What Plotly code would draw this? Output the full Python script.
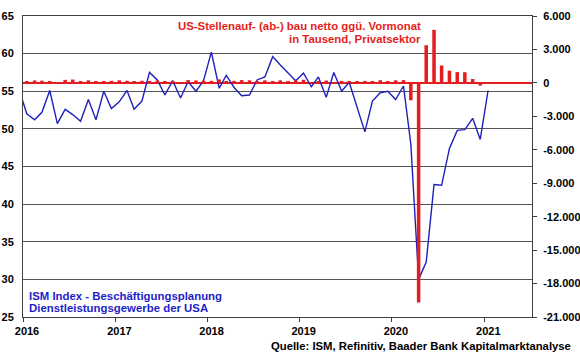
import pandas as pd
import plotly.graph_objects as go

# ISM services employment index, monthly, Dec 2015 - Jan 2021
ism_start = "2015-12-01"
ism_values = [
    55.3,
    52.0, 51.2, 52.2, 55.1, 50.7, 52.6, 51.9, 51.0, 53.9, 51.2, 55.0, 52.7,
    53.6, 55.1, 52.6, 53.7, 57.5, 56.5, 54.5, 56.4, 54.1, 56.3, 55.0, 56.4,
    60.2, 55.4, 57.1, 55.5, 54.4, 54.5, 56.5, 56.9, 59.6, 58.5, 57.4, 56.4,
    57.4, 55.6, 56.9, 54.2, 57.5, 55.0, 56.2, 53.0, 49.6, 53.7, 54.8, 55.0,
    53.9, 55.7, 48.0, 30.0, 32.3, 42.6, 42.5, 47.4, 49.8, 49.9, 51.4, 48.6,
    55.1,
]

# US private payroll change vs. prior month (thousands), Jan 2016 - Jan 2021
jobs_start = "2016-01-01"
jobs_values = [
    130, 220, 200, 150, 30, 270, 300, 130, 230, 130, 170, 180,
    230, 190, 140, 190, 150, 210, 170, 180, 20, 250, 220, 190,
    180, 310, 150, 180, 250, 230, 160, 230, 110, 230, 170, 230,
    280, 30, 170, 210, 80, 180, 150, 150, 180, 160, 240, 140,
    230, 250, -1560, -19700, 3380, 4760, 1560, 1100, 970, 960, 350, -240,
    60,
]

years = [2016, 2017, 2018, 2019, 2020, 2021]
left_ticks = [25, 30, 35, 40, 45, 50, 55, 60, 65]
right_ticks = [-21000, -18000, -15000, -12000, -9000, -6000, -3000, 0, 3000, 6000]

x_range = ["2016-01-01", "2021-07-09"]

title_lines = ["US-Stellenauf- (ab-) bau netto ggü. Vormonat", "in Tausend, Privatsektor"]
ism_lines = ["ISM Index - Beschäftigungsplanung", "Dienstleistungsgewerbe der USA"]
source_text = "Quelle: ISM, Refinitiv, Baader Bank Kapitalmarktanalyse"

RED = "#e41e20"
BLUE = "#2020bc"
AXIS = "#404040"
GRID = "#555555"
FONT = "Liberation Sans"

mid = pd.Timedelta(days=15)
ism_dates = pd.date_range(ism_start, periods=len(ism_values), freq="MS") + mid
jobs_dates = pd.date_range(jobs_start, periods=len(jobs_values), freq="MS") + mid


def fmt(v):
    return f"{v:,}".replace(",", ".")


fig = go.Figure()
fig.add_trace(go.Scatter(
    x=ism_dates, y=ism_values, mode="lines",
    line=dict(color=BLUE, width=1.4), yaxis="y", showlegend=False,
    hoverinfo="skip",
))
fig.add_trace(go.Bar(
    x=jobs_dates, y=jobs_values, yaxis="y2",
    marker=dict(color=RED, line=dict(width=0)),
    width=14 * 86400000, showlegend=False, hoverinfo="skip",
))

tickfont = dict(family=FONT, size=11, color="black", weight="bold")

fig.update_layout(
    width=580, height=359,
    margin=dict(l=23, r=48, t=16, b=42, autoexpand=False),
    paper_bgcolor="white", plot_bgcolor="white",
    showlegend=False, hovermode=False,
    xaxis=dict(
        type="date", range=x_range, automargin=False,
        tickvals=[f"{y}-01-01" for y in years], ticktext=[str(y) for y in years],
        ticks="outside", ticklen=4, tickcolor=AXIS,
        showline=True, linecolor=AXIS, linewidth=1, mirror=True,
        showgrid=False, zeroline=False, tickfont=tickfont,
        ticklabelshift=4,
    ),
    yaxis=dict(
        range=[25, 65], automargin=False,
        tickvals=left_ticks, ticktext=[str(v) for v in left_ticks],
        showgrid=True, gridcolor=GRID, gridwidth=1,
        showline=True, linecolor=AXIS, linewidth=1,
        ticks="", zeroline=False, tickfont=tickfont, ticklabelstandoff=6,
    ),
    yaxis2=dict(
        range=[-21000, 6000], overlaying="y", side="right", automargin=False,
        tickvals=right_ticks, ticktext=[fmt(v) for v in right_ticks],
        showgrid=False, showline=True, linecolor=AXIS, linewidth=1,
        ticks="outside", ticklen=4, tickcolor=AXIS,
        zeroline=True, zerolinecolor=RED, zerolinewidth=2,
        tickfont=tickfont, ticklabelstandoff=4,
    ),
)

# plot area in pixels: x 23..532, y 16..317
def px_x(px):
    return (px - 23) / 509.0


def px_y(py):
    return (317 - py) / 301.0


afont_red = dict(family=FONT, size=11.4, color=RED, weight="bold")
afont_blue = dict(family=FONT, size=11.4, color="#1e1ec8", weight="bold")
afont_black = dict(family=FONT, size=11.3, color="black", weight="bold")

for txt, py in zip(title_lines, [26, 39]):
    fig.add_annotation(text=txt, xref="paper", yref="paper", x=px_x(423), y=px_y(py),
                       xanchor="right", yanchor="middle", showarrow=False, font=afont_red)
for txt, py in zip(ism_lines, [296, 308]):
    fig.add_annotation(text=txt, xref="paper", yref="paper", x=px_x(27), y=px_y(py),
                       xanchor="left", yanchor="middle", showarrow=False, font=afont_blue)
fig.add_annotation(text=source_text, xref="paper", yref="paper", x=px_x(573), y=px_y(346),
                   xanchor="right", yanchor="middle", showarrow=False, font=afont_black)

fig.write_html(
    "out.html",
    config={"displayModeBar": False},
    post_script="document.body.style.margin='0';document.body.style.padding='0';",
)
